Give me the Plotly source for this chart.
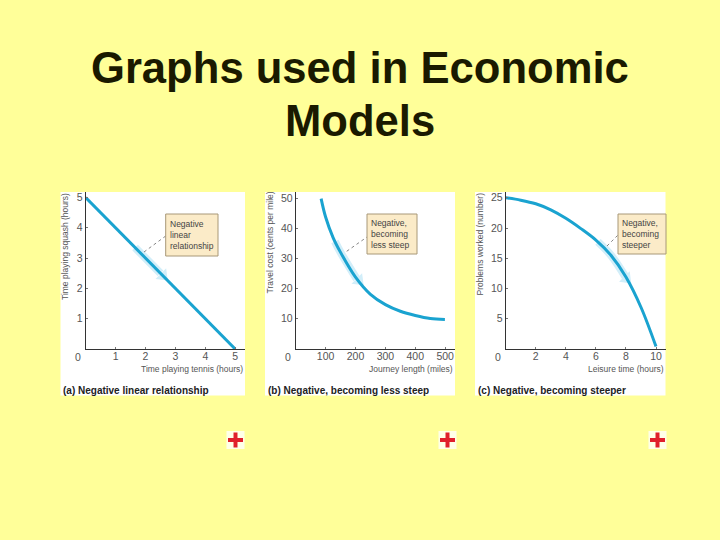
import plotly.graph_objects as go

TITLE_LINES = ["Graphs used in Economic", "Models"]

a_x = [0, 5]
a_y = [5, 0]
a_hx = [1.65, 2.5]
a_hy = [3.35, 2.5]
a_xticks = [1, 2, 3, 4, 5]
a_yticks = [1, 2, 3, 4, 5]

b_x = [85, 100, 125, 150, 200, 250, 300, 350, 400, 450, 499]
b_y = [49.8, 43.7, 36.9, 32, 23.8, 18.1, 14.7, 12.5, 11.1, 10.1, 9.8]
b_hx = [131, 150, 204]
b_hy = [35.6, 32, 23.2]
b_xticks = [100, 200, 300, 400, 500]
b_yticks = [10, 20, 30, 40, 50]

c_x = [0, 1, 2, 3, 4, 5, 6, 7, 8, 9, 10]
c_y = [25, 24.6, 24, 23, 21.6, 19.9, 18.0, 15.5, 11.9, 6.9, 0.4]
c_hx = [6.14, 7, 8.05]
c_hy = [17.7, 15.5, 11.6]
c_xticks = [2, 4, 6, 8, 10]
c_yticks = [5, 10, 15, 20, 25]

x_titles = ["Time playing tennis (hours)", "Journey length (miles)", "Leisure time (hours)"]
y_titles = ["Time playing squash (hours)", "Travel cost (cents per mile)", "Problems worked (number)"]
captions = ["(a) Negative linear relationship", "(b) Negative, becoming less steep", "(c) Negative, becoming steeper"]
notes = ["Negative<br>linear<br>relationship", "Negative,<br>becoming<br>less steep", "Negative,<br>becoming<br>steeper"]

W, H = 720, 540
BG = "#FFFF99"
LINE = "#1AA3D0"
PALE = "#D2EEF9"
INK = "#555555"
DARK = "#222222"
FONT = "Liberation Sans"


def px(v):
    return v / W


def py(v):
    return 1 - v / H


panels = [
    dict(left=60.5, right=245, ox=85.7, sx=29.9, ymax_u=30.3,
         xs=a_x, ys=a_y, hx=a_hx, hy=a_hy, xt=a_xticks, yt=a_yticks,
         box=(165.7, 214, 218, 256), tail=(144, 252), head=(165.7, 236), ytc=247, arrow=(2.59, 2.41)),
    dict(left=265, right=455, ox=295.7, sx=0.299, ymax_u=3.02,
         xs=b_x, ys=b_y, hx=b_hx, hy=b_hy, xt=b_xticks, yt=b_yticks,
         box=(367, 214, 417, 254), tail=(346.7, 251.3), head=(367, 237), ytc=243, arrow=(212, 22.6)),
    dict(left=475, right=665.5, ox=505.7, sx=15.03, ymax_u=6.05,
         xs=c_x, ys=c_y, hx=c_hx, hy=c_hy, xt=c_xticks, yt=c_yticks,
         box=(618, 214, 666, 254), tail=(607, 246), head=(618, 235), ytc=244, arrow=(8.05, 11.6)),
]

TOP, BOTTOM = 192, 349

fig = go.Figure()
shapes, annotations = [], []

for i, p in enumerate(panels):
    n = "" if i == 0 else str(i + 1)
    xa, ya = "x" + n, "y" + n
    fig.add_trace(go.Scatter(x=p["hx"], y=p["hy"], mode="lines", xaxis=xa, yaxis=ya,
                             line=dict(color=PALE, width=8, shape="spline"), hoverinfo="skip", showlegend=False))
    fig.add_trace(go.Scatter(x=[p["arrow"][0]], y=[p["arrow"][1]], mode="markers", xaxis=xa, yaxis=ya,
                             marker=dict(symbol="triangle-down", size=13, color=PALE, angle=-45),
                             hoverinfo="skip", showlegend=False))
    fig.add_trace(go.Scatter(x=p["xs"], y=p["ys"], mode="lines", xaxis=xa, yaxis=ya,
                             line=dict(color=LINE, width=3, shape="spline" if i else "linear", smoothing=1.0),
                             hoverinfo="skip", showlegend=False))

    axis_common = dict(showgrid=False, zeroline=False, showline=True, linecolor="#333333", linewidth=1,
                       ticks="inside", ticklen=2, tickwidth=1, tickcolor="#777777",
                       tickfont=dict(family=FONT, size=10.5, color=INK), fixedrange=True)
    fig.layout["xaxis" + n] = dict(
        axis_common, domain=[px(p["ox"]), px(p["right"])], range=[0, (p["right"] - p["ox"]) / p["sx"]],
        tickvals=p["xt"], anchor=ya, ticklabelstandoff=-3)
    fig.layout["yaxis" + n] = dict(
        axis_common, domain=[py(BOTTOM), py(TOP)], range=[0, (BOTTOM - TOP) / p["ymax_u"]],
        tickvals=p["yt"], anchor=xa, ticklabelstandoff=0)

    shapes.append(dict(type="rect", xref="paper", yref="paper", layer="below",
                       x0=px(p["left"]), x1=px(p["right"]), y0=py(395.5), y1=py(192),
                       fillcolor="white", line=dict(width=0)))
    x0, y0, x1, y1 = p["box"]
    shapes.append(dict(type="line", xref="paper", yref="paper", layer="above",
                       x0=px(p["tail"][0]), y0=py(p["tail"][1]), x1=px(p["head"][0]), y1=py(p["head"][1]),
                       line=dict(color="#666666", width=0.8, dash="dot")))
    shapes.append(dict(type="rect", xref="paper", yref="paper", layer="above",
                       x0=px(x0), x1=px(x1), y0=py(y1), y1=py(y0),
                       fillcolor="#FBEBC8", line=dict(color="#A89878", width=1)))
    annotations.append(dict(xref="paper", yref="paper", x=px(x0 + 2), y=py((y0 + y1) / 2), xanchor="left", yanchor="middle",
                            text=notes[i], align="left", showarrow=False,
                            font=dict(family=FONT, size=8.5, color="#444444")))
    annotations.append(dict(xref="paper", yref="paper", x=px(p["ox"] - 7.5), y=py(357), xanchor="center", yanchor="middle",
                            text="0", showarrow=False, font=dict(family=FONT, size=10.5, color=INK)))
    annotations.append(dict(xref="paper", yref="paper", x=px(p["right"]), y=py(368.5), xanchor="right", yanchor="middle",
                            text=x_titles[i], showarrow=False, font=dict(family=FONT, size=8.5, color=INK)))
    annotations.append(dict(xref="paper", yref="paper", x=px(p["left"] + 4.5), y=py(p["ytc"]), xanchor="center", yanchor="middle",
                            text=y_titles[i], textangle=-90, showarrow=False, font=dict(family=FONT, size=8.5, color=INK)))
    annotations.append(dict(xref="paper", yref="paper", x=px(p["left"] + 0.5), y=py(390), xanchor="left", yanchor="middle",
                            text="<b>%s</b>" % captions[i], showarrow=False, font=dict(family=FONT, size=10, color=DARK)))

for line, yc in zip(TITLE_LINES, (68, 121)):
    annotations.append(dict(xref="paper", yref="paper", x=px(359.5), y=py(yc), xanchor="center", yanchor="middle",
                            text="<b>%s</b>" % line, showarrow=False,
                            font=dict(family=FONT, size=43.6, color="#1A1A00")))

# small navigation icons below the panels
for cx in (235.5, 447.5, 657.5):
    shapes.append(dict(type="rect", xref="paper", yref="paper", x0=px(cx - 9), x1=px(cx + 9), y0=py(449), y1=py(431),
                       fillcolor="#FFFFE8", line=dict(width=0)))
    shapes.append(dict(type="rect", xref="paper", yref="paper", x0=px(cx - 7.5), x1=px(cx + 7.5), y0=py(442), y1=py(438),
                       fillcolor="#E0202C", line=dict(width=0)))
    shapes.append(dict(type="rect", xref="paper", yref="paper", x0=px(cx - 2), x1=px(cx + 2), y0=py(447.5), y1=py(432.5),
                       fillcolor="#E0202C", line=dict(width=0)))

fig.update_layout(
    width=W, height=H, autosize=False, margin=dict(l=0, r=0, t=0, b=0),
    paper_bgcolor=BG, plot_bgcolor="rgba(0,0,0,0)", showlegend=False,
    shapes=shapes, annotations=annotations,
)

fig.write_html("out.html", config=dict(displayModeBar=False),
               post_script="document.body.style.margin='0';document.body.style.background='%s';" % BG)
